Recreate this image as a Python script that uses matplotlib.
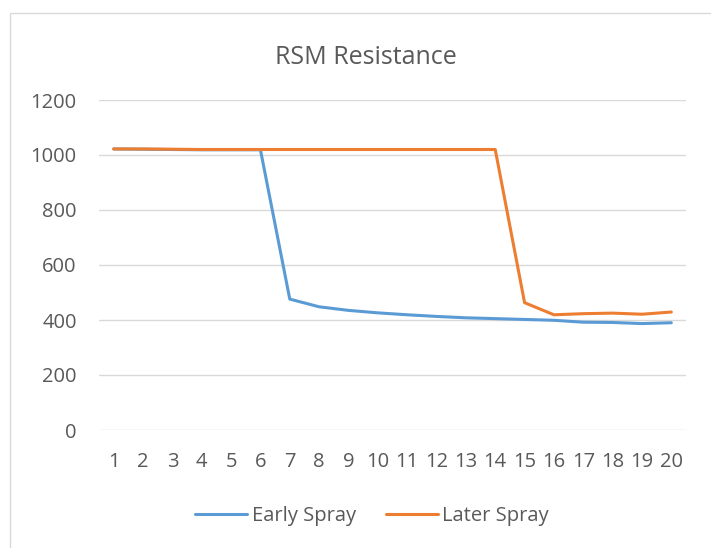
import matplotlib
matplotlib.use("Agg")
import matplotlib.pyplot as plt
from matplotlib.patches import Rectangle

# data
days = list(range(1, 21))
early_spray = [1022, 1021, 1020, 1019, 1019, 1019, 476, 448, 435, 426, 419, 413, 408, 405, 402, 399, 392, 391, 387, 390]
later_spray = [1022, 1022, 1021, 1020, 1020, 1020, 1020, 1020, 1020, 1020, 1020, 1020, 1020, 1020, 463, 419, 423, 425, 421, 429]
y_ticks = [0, 200, 400, 600, 800, 1000, 1200]

text_color = "#595959"
plt.rcParams["font.family"] = ["Open Sans", "DejaVu Sans"]

fig = plt.figure(figsize=(7.11, 5.48), dpi=100)
ax = fig.add_axes([99 / 711, 1 - 430 / 548, 587 / 711, 330 / 548])

# chart area border (Excel style)
fig.patches.append(Rectangle((10 / 711, -0.1), 1.2, 1 - 13 / 548 + 0.1,
                             transform=fig.transFigure, fill=False,
                             edgecolor="#D9D9D9", linewidth=1.0))

ax.plot(days, early_spray, color="#5B9BD5", linewidth=2.2, label="Early Spray",
        solid_joinstyle="round", solid_capstyle="round")
ax.plot(days, later_spray, color="#ED7D31", linewidth=2.2, label="Later Spray",
        solid_joinstyle="round", solid_capstyle="round")

ax.set_xlim(0.5, 20.5)
ax.set_ylim(0, 1200)
ax.set_xticks(days)
ax.set_yticks(y_ticks)
ax.grid(axis="y", color="#D9D9D9", linewidth=1.0)
ax.set_axisbelow(True)
for s in ax.spines.values():
    s.set_visible(False)
ax.tick_params(length=0, labelsize=14.5, colors=text_color, pad=16)
ax.tick_params(axis="x", pad=16)

fig.text(366 / 711, 1 - 57 / 548, "RSM Resistance", ha="center", va="center",
         fontsize=18, color=text_color)

leg = fig.legend(loc="center", bbox_to_anchor=(372 / 711, 1 - 516 / 548), ncol=2,
                 frameon=False, fontsize=14.5, handlelength=2.6, columnspacing=1.5,
                 handletextpad=0.2)
for t in leg.get_texts():
    t.set_color(text_color)

fig.savefig("out.png", dpi=100)
